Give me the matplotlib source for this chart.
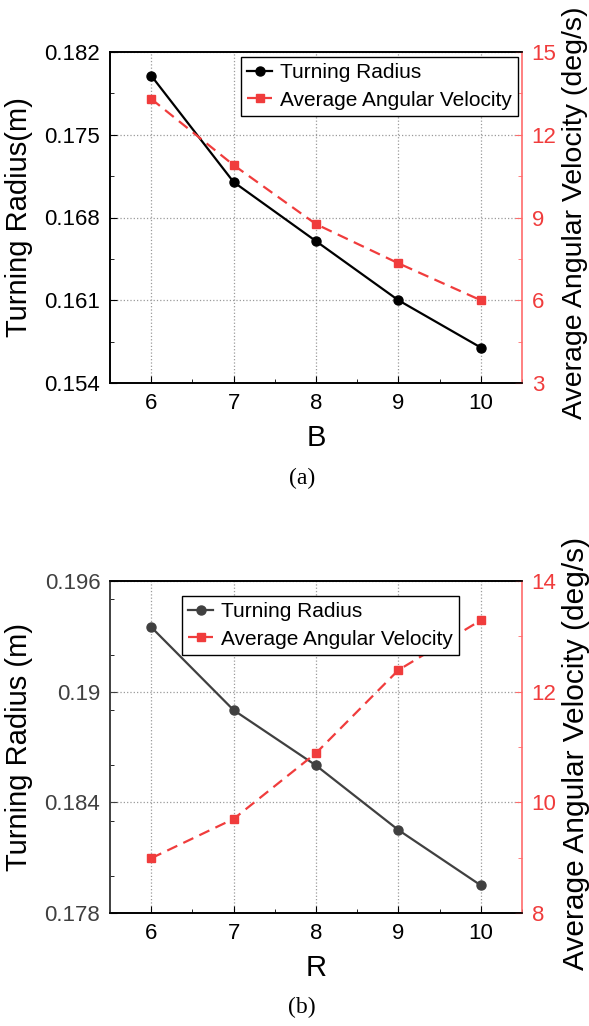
import numpy as np
import matplotlib.pyplot as plt
from matplotlib.ticker import MultipleLocator

plt.rcParams['font.family'] = ['Liberation Sans', 'DejaVu Sans']

# 数据
x_vals = [6, 7, 8, 9, 10]
radius_b = [0.1800, 0.1710, 0.1660, 0.1610, 0.1570]
omega_b = [13.3, 10.9, 8.76, 7.34, 6.0]
radius_r = [0.1935, 0.1890, 0.1860, 0.1825, 0.1795]
omega_r = [8.99, 9.70, 10.89, 12.39, 13.29]

RED = '#f03c3c'
RED_SPINE = '#ff6b6b'


def draw_panel(rect, xname, radius, omega, ylim_l, yticks_l, ylim_r, yticks_r,
               left_color, ylabel, leg_anchor, leg_loc, rlab_size, rlab_y):
    ax = fig.add_axes(rect)
    ax2 = ax.twinx()

    ax.plot(x_vals, radius, '-o', color=left_color, lw=1.6, ms=6.5,
            label='Turning Radius')
    ax2.plot(x_vals, omega, '--s', color=RED, lw=1.6, ms=5.5, dashes=(5, 3),
             label='Average Angular Velocity')

    ax.set_xlim(5.5, 10.5)
    ax.set_xticks(x_vals)
    ax.xaxis.set_minor_locator(MultipleLocator(0.5))
    ax.set_ylim(*ylim_l)
    ax.set_yticks(yticks_l)
    ax.set_yticklabels([('%g' % v) for v in yticks_l])
    ax.yaxis.set_minor_locator(MultipleLocator((yticks_l[1] - yticks_l[0]) / 2))
    ax2.set_ylim(*ylim_r)
    ax2.set_yticks(yticks_r)
    ax2.yaxis.set_minor_locator(MultipleLocator((yticks_r[1] - yticks_r[0]) / 2))

    ax.grid(True, which='major', linestyle=':', color='#9a9a9a', lw=0.9)
    ax.tick_params(axis='both', which='both', direction='in', labelsize=16,
                   top=False, right=False)
    ax.tick_params(axis='both', which='major', length=5, pad=7)
    ax.tick_params(axis='both', which='minor', length=3)
    ax.tick_params(axis='y', colors=left_color, labelcolor=left_color)
    ax.tick_params(axis='x', colors='black')

    ax2.tick_params(axis='y', which='both', direction='in', colors=RED_SPINE,
                    labelcolor=RED, labelsize=16)
    ax2.tick_params(axis='y', which='major', length=5, pad=7)
    ax2.tick_params(axis='y', which='minor', length=3)
    ax2.spines['right'].set_color(RED_SPINE)
    ax2.spines['left'].set_color(left_color)
    ax.spines['left'].set_color(left_color)
    for a in (ax, ax2):
        for s in ('left', 'right', 'top', 'bottom'):
            a.spines[s].set_linewidth(1.2)
    ax.spines['right'].set_visible(False)

    ax.set_xlabel(xname, fontsize=21)
    ax.xaxis.set_label_coords(0.5, -0.125)
    ax.set_ylabel(ylabel, fontsize=21)
    ax.yaxis.set_label_coords(-0.187, 0.5)
    ax2.set_ylabel('Average Angular Velocity (deg/s)', fontsize=rlab_size)
    ax2.yaxis.set_label_coords(1.097, rlab_y)

    h1, l1 = ax.get_legend_handles_labels()
    h2, l2 = ax2.get_legend_handles_labels()
    leg = ax2.legend(h1 + h2, l1 + l2, loc=leg_loc, bbox_to_anchor=leg_anchor,
                     fontsize=15, frameon=True, fancybox=False, edgecolor='black',
                     framealpha=1, handlelength=1.2, handletextpad=0.35,
                     borderpad=0.3, labelspacing=0.4, borderaxespad=0)
    leg.get_frame().set_linewidth(1.0)
    return ax, ax2


fig = plt.figure(figsize=(5.89, 10.26), dpi=100)

draw_panel([110 / 589, 1 - 383 / 1026, 412 / 589, 331 / 1026], 'B',
           radius_b, omega_b, (0.154, 0.182),
           [0.154, 0.161, 0.168, 0.175, 0.182], (3, 15), [3, 6, 9, 12, 15],
           'black', 'Turning Radius(m)', (0.99, 0.985), 'upper right',
           20.5, 0.514)

draw_panel([110 / 589, 1 - 913 / 1026, 412 / 589, 332 / 1026], 'R',
           radius_r, omega_r, (0.178, 0.196),
           [0.178, 0.184, 0.19, 0.196], (8, 14), [8, 10, 12, 14],
           '#404040', 'Turning Radius (m)', (0.175, 0.955), 'upper left',
           21.5, 0.482)

fig.text(0.513, 1 - 478 / 1026, '(a)', ha='center', va='center', fontsize=17,
         family=['Liberation Serif', 'DejaVu Serif'])
fig.text(0.513, 1 - 1007 / 1026, '(b)', ha='center', va='center', fontsize=17,
         family=['Liberation Serif', 'DejaVu Serif'])

fig.savefig('out.png', dpi=100)
